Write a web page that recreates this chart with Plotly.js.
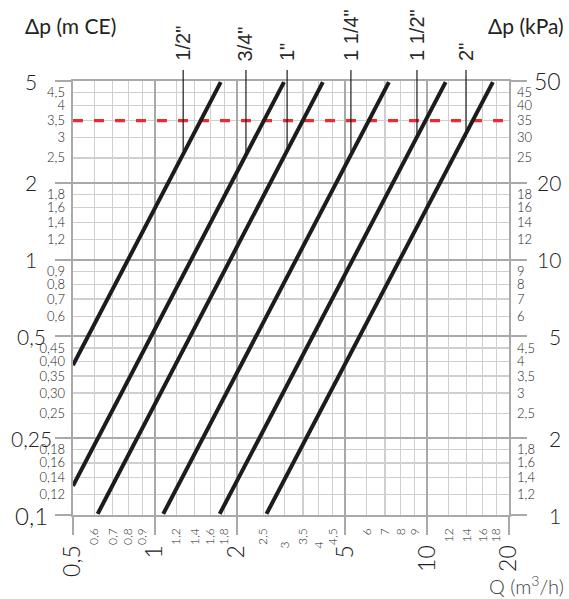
<!DOCTYPE html>
<html>
<head>
<meta charset="utf-8">
<script src="https://cdn.plot.ly/plotly-3.0.1.min.js"></script>
<style>html,body{margin:0;padding:0;background:#fff;}#chart{width:569px;height:599px;}</style>
</head>
<body>
<div id="chart"></div>
<script>
// ---- data ----
var sizes = ['1/2"', '3/4"', '1"', '1 1/4"', '1 1/2"', '2"'];
var qStart = [0.5, 0.5, 0.616, 1.073, 1.73, 2.57];
var pStart = [0.386, 0.130, 0.101, 0.101, 0.101, 0.101];
var qEnd = [1.745, 2.98, 4.14, 7.24, 11.7, 17.45];
var pEnd = [4.95, 4.95, 4.95, 4.95, 4.95, 4.95];
var markerQ = [1.27, 2.16, 3.06, 5.25, 9.18, 13.9];
var markerP = [2.65, 2.57, 2.66, 2.64, 3.0, 3.02];
var redP = 3.5;

var qRange = [0.5, 20];
var pRange = [0.1, 5];
var kpaRange = [1, 50];

var xMajor = [0.5, 1, 2, 5, 10, 20];
var xMajorText = ['0,5', '1', '2', '5', '10', '20'];
var xMinor = [0.6, 0.7, 0.8, 0.9, 1.2, 1.4, 1.6, 1.8, 2.5, 3, 3.5, 4, 4.5, 6, 7, 8, 9, 12, 14, 16, 18];
var xMinorText = ['0,6', '0,7', '0,8', '0,9', '1,2', '1,4', '1,6', '1,8', '2,5', '3', '3,5', '4', '4,5', '6', '7', '8', '9', '12', '14', '16', '18'];

var yMajor = [0.1, 0.2, 0.5, 1, 2, 5];
var yMajorText = ['0,1', '0,25', '0,5', '1', '2', '5'];
var yMinor = [0.12, 0.14, 0.16, 0.18, 0.25, 0.30, 0.35, 0.40, 0.45, 0.6, 0.7, 0.8, 0.9, 1.2, 1.4, 1.6, 1.8, 2.5, 3, 3.5, 4, 4.5];
var yMinorText = ['0,12', '0,14', '0,16', '0,18', '0,25', '0,30', '0,35', '0,40', '0,45', '0,6', '0,7', '0,8', '0,9', '1,2', '1,4', '1,6', '1,8', '2,5', '3', '3,5', '4', '4,5'];

var kMajor = [1, 2, 5, 10, 20, 50];
var kMajorText = ['1', '2', '5', '10', '20', '50'];
var kMinor = [1.2, 1.4, 1.6, 1.8, 2.5, 3, 3.5, 4, 4.5, 6, 7, 8, 9, 12, 14, 16, 18, 25, 30, 35, 40, 45];
var kMinorText = ['1,2', '1,4', '1,6', '1,8', '2,5', '3', '3,5', '4', '4,5', '6', '7', '8', '9', '12', '14', '16', '18', '25', '30', '35', '40', '45'];

// ---- style ----
var gMaj = '#a9a9a9', gMin = '#cfcfcf';
var numFont = 'Lato, sans-serif';
var txtFont = 'Liberation Sans, Arial, sans-serif';
var txtCol = '#222';
var L = Math.log10;
var NB = '\u00a0\u00a0\u00a0\u00a0';
var xMinorShown = xMinorText.map(function (t) { return (t === '3' || t === '4') ? t + NB : t; });

var traces = [];
traces.push({
  x: qRange, y: [redP, redP], type: 'scatter', mode: 'lines',
  line: { color: '#ec2a2f', width: 3.2, dash: '10px,11px' }, hoverinfo: 'skip', showlegend: false
});
for (var i = 0; i < sizes.length; i++) {
  traces.push({
    x: [qStart[i], qEnd[i]], y: [pStart[i], pEnd[i]], type: 'scatter', mode: 'lines',
    name: sizes[i], line: { color: '#1c1c1c', width: 4 }, showlegend: false
  });
  traces.push({
    x: [markerQ[i], markerQ[i]], y: [markerP[i], pRange[1]], type: 'scatter', mode: 'lines',
    line: { color: '#1c1c1c', width: 1.2 }, hoverinfo: 'skip', showlegend: false
  });
}
// carrier traces so the label-only overlay axes get drawn
traces.push({ x: qRange, y: pRange, xaxis: 'x2', yaxis: 'y3', type: 'scatter', mode: 'none', hoverinfo: 'skip', showlegend: false });
traces.push({ x: qRange, y: kpaRange, xaxis: 'x', yaxis: 'y2', type: 'scatter', mode: 'none', hoverinfo: 'skip', showlegend: false });

var annotations = [];
var shapes = [];
for (var i = 0; i < sizes.length; i++) {
  annotations.push({
    text: sizes[i], xref: 'x', yref: 'paper', x: L(markerQ[i]), y: 1.0415,
    xanchor: 'center', yanchor: 'bottom', textangle: -90, showarrow: false,
    font: { family: txtFont, size: 20, color: '#2a2a2a' }
  });
  shapes.push({
    type: 'line', xref: 'x', yref: 'paper', x0: markerQ[i], x1: markerQ[i], y0: 1, y1: 1.0253,
    line: { color: '#1c1c1c', width: 1.2 }
  });
}
for (var j = 0; j < yMajor.length; j++) {
  annotations.push({
    text: yMajorText[j], xref: 'paper', yref: 'y', x: -0.0963, y: L(yMajor[j]),
    xanchor: 'center', yanchor: 'middle', showarrow: false,
    font: { family: numFont, weight: 300, size: yMajorText[j] === '0,1' ? 24 : 21, color: txtCol }
  });
  annotations.push({
    text: kMajorText[j], xref: 'paper', yref: 'y2', x: 1.1239, y: L(kMajor[j]),
    xanchor: 'right', yanchor: 'middle', showarrow: false,
    font: { family: numFont, weight: 300, size: kMajorText[j] === '50' ? 23 : 21, color: txtCol }
  });
}
annotations.push({ text: '\u0394p (m CE)', xref: 'paper', yref: 'paper', x: -0.115, y: 1.129,
  xanchor: 'left', yanchor: 'middle', showarrow: false, font: { family: 'Lato, sans-serif', size: 21, color: txtCol } });
annotations.push({ text: '\u0394p (kPa)', xref: 'paper', yref: 'paper', x: 1.13, y: 1.129,
  xanchor: 'right', yanchor: 'middle', showarrow: false, font: { family: 'Lato, sans-serif', size: 21, color: txtCol } });
annotations.push({ text: 'Q (m<sup>3</sup>/h)', xref: 'paper', yref: 'paper', x: 1.039, y: -0.161,
  xanchor: 'center', yanchor: 'middle', showarrow: false, font: { family: numFont, weight: 300, size: 20, color: '#444' } });

var layout = {
  width: 569, height: 599,
  margin: { l: 73, r: 60, t: 81, b: 84, pad: 0 },
  paper_bgcolor: '#fff', plot_bgcolor: '#fff',
  showlegend: false,
  xaxis: {
    type: 'log', range: [L(qRange[0]), L(qRange[1])], autorange: false,
    tickmode: 'array', tickvals: xMajor, ticktext: xMajorText, tickangle: -90,
    tickfont: { family: numFont, weight: 300, size: 23, color: txtCol },
    ticks: 'outside', ticklen: 18, tickwidth: 2, tickcolor: gMaj, ticklabelstandoff: 1,
    showgrid: true, gridcolor: gMaj, gridwidth: 2,
    showline: true, linecolor: gMaj, linewidth: 2, mirror: true, zeroline: false,
    minor: { tickmode: 'array', tickvals: xMinor, showgrid: true, gridcolor: gMin, gridwidth: 1.3, ticks: '' }
  },
  xaxis2: {
    type: 'log', range: [L(qRange[0]), L(qRange[1])], autorange: false,
    overlaying: 'x', anchor: 'y', side: 'bottom',
    tickmode: 'array', tickvals: xMinor, ticktext: xMinorShown, tickangle: -90,
    tickfont: { family: numFont, weight: 300, size: 12, color: txtCol },
    ticks: '', showgrid: false, showline: false, zeroline: false, ticklabelstandoff: 10
  },
  yaxis: {
    type: 'log', range: [L(pRange[0]), L(pRange[1])], autorange: false,
    tickmode: 'array', tickvals: yMajor, showticklabels: false,
    ticks: 'outside', ticklen: 16, tickwidth: 2, tickcolor: gMaj,
    showgrid: true, gridcolor: gMaj, gridwidth: 2,
    showline: true, linecolor: gMaj, linewidth: 2, mirror: 'ticks', zeroline: false,
    minor: { tickmode: 'array', tickvals: yMinor, showgrid: true, gridcolor: gMin, gridwidth: 1.3, ticks: '' }
  },
  yaxis2: {
    type: 'log', range: [L(kpaRange[0]), L(kpaRange[1])], autorange: false,
    overlaying: 'y', anchor: 'x', side: 'right',
    tickmode: 'array', tickvals: kMinor, ticktext: kMinorText,
    tickfont: { family: numFont, weight: 300, size: 13, color: txtCol },
    ticks: '', showgrid: false, showline: false, zeroline: false, ticklabelstandoff: 7
  },
  yaxis3: {
    type: 'log', range: [L(pRange[0]), L(pRange[1])], autorange: false,
    overlaying: 'y', anchor: 'x', side: 'left',
    tickmode: 'array', tickvals: yMinor, ticktext: yMinorText,
    tickfont: { family: numFont, weight: 300, size: 13, color: txtCol },
    ticks: '', showgrid: false, showline: false, zeroline: false, ticklabelstandoff: 7
  },
  annotations: annotations,
  shapes: shapes
};

Plotly.newPlot('chart', traces, layout, { staticPlot: true, displayModeBar: false });
</script>
</body>
</html>
